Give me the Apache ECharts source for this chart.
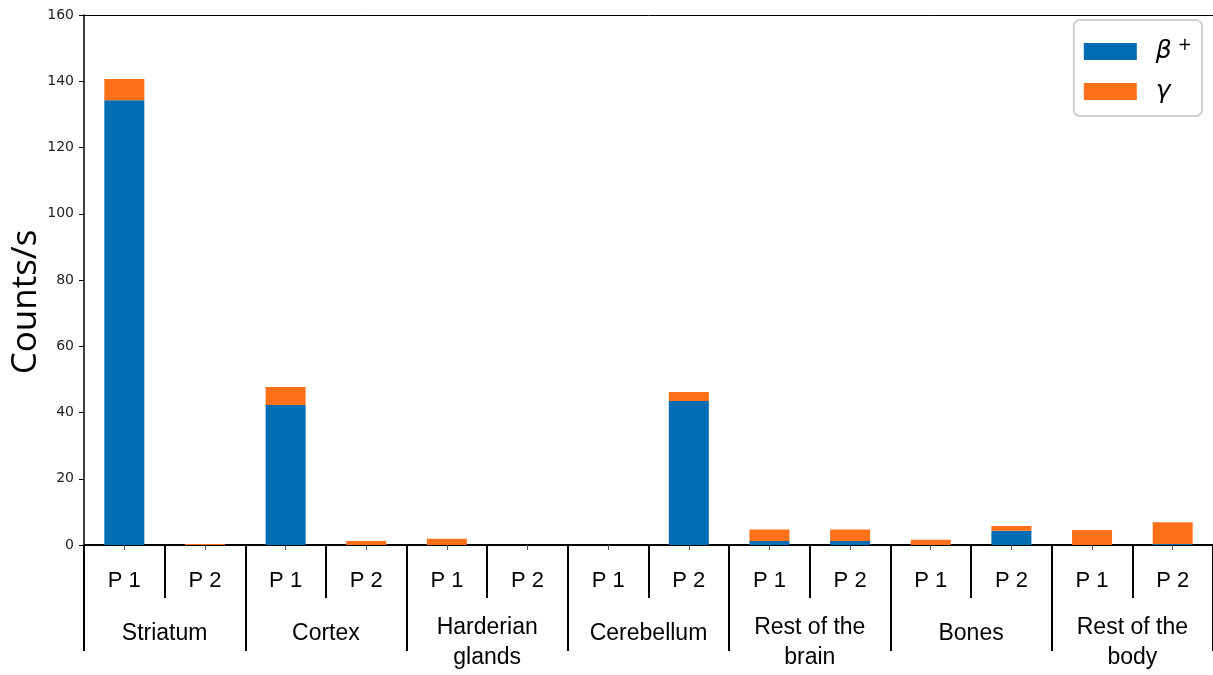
<!DOCTYPE html>
<html>
<head>
<meta charset="utf-8">
<title>Counts/s per region</title>
<script src="https://cdn.jsdelivr.net/npm/echarts@6/dist/echarts.min.js"></script>
<style>
  html, body { margin: 0; padding: 0; background: #fff; }
  #chart { width: 1213px; height: 675px; }
</style>
</head>
<body>
<div id="chart"></div>
<script>
// Sub-category (phantom position) labels, one per bar
const positions = ['P 1', 'P 2', 'P 1', 'P 2', 'P 1', 'P 2', 'P 1', 'P 2',
                   'P 1', 'P 2', 'P 1', 'P 2', 'P 1', 'P 2'];
// Region groups, each spanning two bars
const regions = ['Striatum', 'Cortex', 'Harderian\nglands', 'Cerebellum',
                 'Rest of the\nbrain', 'Bones', 'Rest of the\nbody'];
// Count rates (counts/s)
const betaPlus = [134.3, 0, 42.3, 0, 0, 0, 0, 43.5, 1.2, 1.2, 0, 4.3, 0, 0.3];
const gamma    = [6.4, 0.3, 5.4, 1.2, 1.9, 0, 0, 2.7, 3.5, 3.5, 1.6, 1.4, 4.5, 6.6];
const yTicks = [0, 20, 40, 60, 80, 100, 120, 140, 160];

const BLUE = '#006cb1';
const ORANGE = '#ff7118';

const chart = echarts.init(document.getElementById('chart'), null, { renderer: 'canvas' });

const regionData = regions.map(r => r.indexOf('\n') >= 0
  ? { value: r }
  : { value: r, textStyle: { padding: [6, 0, 0, 0] } });

chart.setOption({
  animation: false,
  backgroundColor: '#fff',
  grid: { left: 84, right: 0, top: 15, bottom: 130, containLabel: false, outerBoundsMode: 'none' },
  legend: {
    right: 11, top: 20, orient: 'vertical',
    itemWidth: 53, itemHeight: 17, itemGap: 15,
    padding: [17, 10, 12, 10],
    borderColor: '#d0d0d0', borderWidth: 2, borderRadius: 6,
    backgroundColor: '#fff',
    icon: 'rect',
    formatter: name => name === 'β+' ? '{g|β}{s|+}' : '{g|γ}',
    textStyle: {
      rich: {
        g: { fontFamily: 'DejaVu Sans', fontStyle: 'italic', fontSize: 25, color: '#000', lineHeight: 24, padding: [0, 0, 0, 14] },
        s: { fontFamily: 'DejaVu Sans', fontSize: 17, color: '#000', padding: [0, 0, 12, 6] }
      }
    },
    data: ['β+', 'γ']
  },
  xAxis: [
    {
      // bar positions with P 1 / P 2 labels
      type: 'category', data: positions, position: 'bottom',
      axisLine: { show: true, lineStyle: { color: '#000', width: 2 } },
      axisTick: { show: true, alignWithLabel: true, length: 5, lineStyle: { color: '#555', width: 1 } },
      axisLabel: { margin: 25, fontFamily: 'Liberation Sans', fontSize: 22, color: '#000' }
    },
    {
      // short dividers between P 1 and P 2
      type: 'category', data: positions, position: 'bottom',
      axisLine: { show: false },
      axisTick: { show: true, length: 53, lineStyle: { color: '#000', width: 2 } },
      axisLabel: { show: false }
    },
    {
      // region groups with long dividers
      type: 'category', data: regionData, position: 'bottom',
      axisLine: { show: false },
      axisTick: { show: true, length: 106, lineStyle: { color: '#000', width: 2 } },
      axisLabel: { margin: 68, fontFamily: 'Liberation Sans', fontSize: 23, color: '#000', lineHeight: 30, interval: 0 }
    },
    {
      // top frame line
      type: 'category', data: positions, position: 'top',
      axisLine: { show: true, lineStyle: { color: '#000', width: 1 } },
      axisTick: { show: false }, axisLabel: { show: false }
    }
  ],
  yAxis: {
    type: 'value', min: 0, max: 160, interval: 20,
    name: 'Counts/s', nameLocation: 'middle', nameGap: 40, nameMoveOverlap: false,
    nameTextStyle: { fontFamily: 'Open Sans', fontSize: 35, color: '#000', padding: [0, 44, 0, 0] },
    axisLine: { show: true, lineStyle: { color: '#000', width: 1.5 } },
    axisTick: { show: true, length: 5, lineStyle: { color: '#000' } },
    axisLabel: {
      fontFamily: 'DejaVu Sans', fontSize: 14, color: '#222', margin: 10,
      formatter: v => yTicks.indexOf(v) >= 0 ? String(v) : ''
    },
    splitLine: { show: false }
  },
  series: [
    {
      name: 'β+', type: 'bar', stack: 'total', barWidth: 40,
      itemStyle: { color: BLUE }, data: betaPlus
    },
    {
      name: 'γ', type: 'bar', stack: 'total', barWidth: 40,
      itemStyle: { color: ORANGE }, data: gamma
    }
  ]
});
</script>
</body>
</html>
